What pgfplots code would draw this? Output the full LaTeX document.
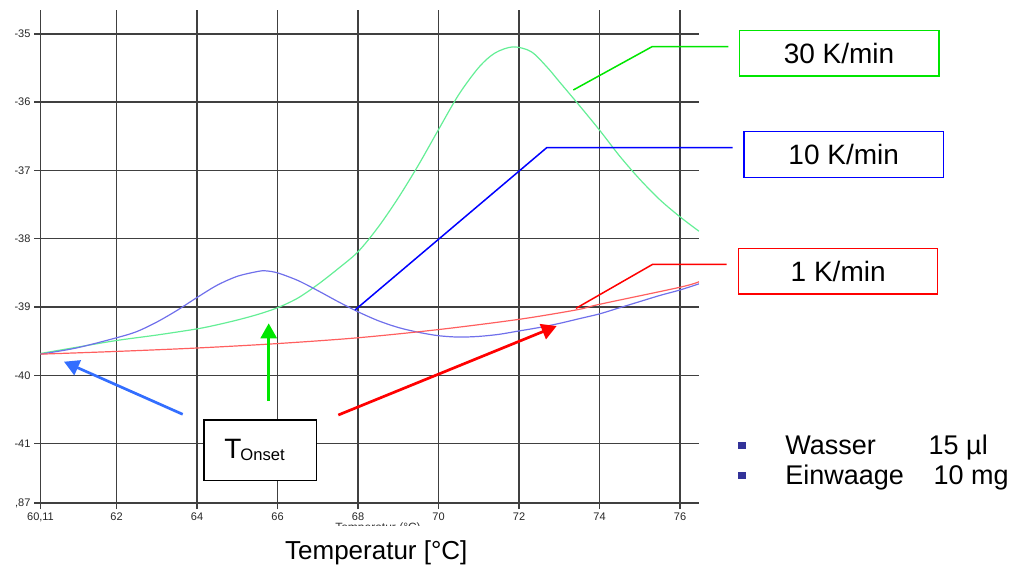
\documentclass[border=0pt]{standalone}
\usepackage{fontspec}
\setmainfont{Liberation Sans}
\usepackage{pgfplots}
\usepackage{pgfplotstable}
\pgfplotsset{compat=1.18}
\usetikzlibrary{arrows.meta}

\definecolor{gridc}{RGB}{64,64,64}
\definecolor{cgreen}{RGB}{100,238,150}
\definecolor{cblue}{RGB}{112,112,235}
\definecolor{cred}{RGB}{255,95,95}
\definecolor{lgreen}{RGB}{0,230,0}
\definecolor{lblue}{RGB}{0,0,255}
\definecolor{lred}{RGB}{255,0,0}
\definecolor{ablue}{RGB}{51,110,255}
\definecolor{bulletc}{RGB}{51,51,153}

\pgfplotstableread{
T v
60.11 -39.68
61.0 -39.59
62.0 -39.49
63.0 -39.41
64.0 -39.32
64.5 -39.26
65.0 -39.19
65.5 -39.11
66.0 -39.01
66.5 -38.87
67.0 -38.67
67.5 -38.44
68.0 -38.19
68.5 -37.83
69.0 -37.40
69.5 -36.92
70.0 -36.40
70.5 -35.89
71.0 -35.49
71.4 -35.28
71.85 -35.19
72.3 -35.26
72.7 -35.49
73.0 -35.70
73.5 -36.05
74.0 -36.41
74.5 -36.79
75.0 -37.13
75.5 -37.43
76.0 -37.68
76.47 -37.89
}\greendata

\pgfplotstableread{
T v
60.11 -39.69
61.0 -39.60
62.0 -39.45
62.5 -39.36
63.0 -39.22
63.5 -39.05
64.0 -38.86
64.5 -38.68
65.0 -38.55
65.5 -38.48
65.7 -38.47
66.0 -38.50
66.5 -38.61
67.0 -38.76
67.5 -38.92
68.0 -39.07
68.5 -39.20
69.0 -39.30
69.5 -39.37
70.0 -39.42
70.5 -39.44
71.0 -39.43
71.5 -39.40
72.0 -39.35
72.5 -39.30
73.0 -39.24
73.5 -39.17
74.0 -39.10
74.5 -39.01
75.0 -38.92
75.5 -38.83
76.0 -38.75
76.47 -38.66
}\bluedata

\pgfplotstableread{
T v
60.11 -39.69
62.0 -39.65
64.0 -39.60
66.0 -39.535
68.0 -39.45
70.0 -39.33
72.0 -39.18
73.44 -39.04
74.0 -38.96
76.0 -38.71
76.47 -38.63
}\reddata

\begin{document}
\begin{tikzpicture}
\useasboundingbox (0,0) rectangle (506pt,282pt);
\begin{axis}[
  at={(20.25pt,30.5pt)}, anchor=south west,
  scale only axis, width=329.25pt, height=246.5pt,
  xmin=60.11, xmax=76.47, ymin=-41.87, ymax=-34.65,
  axis lines=left,
  axis line style={-, draw=gridc, line width=0.7pt},
  xtick={60.11,62,64,66,68,70,72,74,76},
  xticklabels={{60,11},62,64,66,68,70,72,74,76},
  ytick={-41.87,-41,-40,-39,-38,-37,-36,-35},
  yticklabels={{,87},-41,-40,-39,-38,-37,-36,-35},
  grid=major,
  major grid style={draw=gridc, line width=0.7pt},
  tick align=outside, major tick length=3pt,
  tick style={draw=gridc, line width=0.7pt},
  ticklabel style={font=\fontsize{5.5pt}{6pt}\selectfont, text=black!85},
  xticklabel style={yshift=1.8pt},
  yticklabel style={xshift=1.5pt},
]
\addplot[cgreen, line width=0.6pt, smooth] table[x=T,y=v] {\greendata};
\addplot[cblue, line width=0.6pt, smooth] table[x=T,y=v] {\bluedata};
\addplot[cred, line width=0.6pt, smooth] table[x=T,y=v] {\reddata};
\end{axis}

\begin{scope}[x=0.5pt, y=-0.5pt, yshift=282pt]
  % leader lines
  \draw[lgreen, line width=0.75pt] (573.3,90) -- (652,46.7) -- (728.3,46.7);
  \draw[lblue, line width=0.75pt] (355,310) -- (546.7,147.7) -- (732.7,147.7);
  \draw[lred, line width=0.75pt] (576,308.3) -- (652.7,264.3) -- (726.7,264.3);
  % legend boxes
  \draw[lgreen, line width=0.75pt] (739.3,30.7) rectangle (939,76);
  \node[font=\fontsize{14pt}{16pt}\selectfont] at (839,53.3) {30 K/min};
  \draw[lblue, line width=0.75pt] (744,131.7) rectangle (943.3,177.3);
  \node[font=\fontsize{14pt}{16pt}\selectfont] at (843.7,154.5) {10 K/min};
  \draw[lred, line width=0.75pt] (738.7,248.3) rectangle (937.7,294);
  \node[font=\fontsize{14pt}{16pt}\selectfont] at (838.2,271.2) {1 K/min};
  % arrows
  \draw[ablue, line width=1.35pt, -{Triangle[length=7.5pt,width=8pt]}] (182.7,414.3) -- (64,361.7);
  \draw[lgreen, line width=1.35pt, -{Triangle[length=7.5pt,width=8pt]}] (268.7,400.7) -- (268.7,323.3);
  \draw[lred, line width=1.35pt, -{Triangle[length=7.5pt,width=8pt]}] (338.3,415) -- (556.7,326);
  % T onset box
  \draw[black, fill=white, line width=0.75pt] (204,420) rectangle (316.7,480.7);
  \node[anchor=base west, inner sep=0pt, font=\fontsize{14pt}{16pt}\selectfont] at (224,458.3) {T};
  \node[anchor=base west, inner sep=0pt, font=\fontsize{8.3pt}{10pt}\selectfont] at (240,460) {Onset};
  % bullets
  \fill[bulletc] (738.3,441.7) rectangle (746,449.3);
  \fill[bulletc] (738.3,471.7) rectangle (746,479.3);
  \node[anchor=base west, inner sep=0pt, font=\fontsize{13.5pt}{16pt}\selectfont] at (785,454.3) {Wasser};
  \node[anchor=base west, inner sep=0pt, font=\fontsize{13.5pt}{16pt}\selectfont] at (928.3,454.3) {15 µl};
  \node[anchor=base west, inner sep=0pt, font=\fontsize{13.5pt}{16pt}\selectfont] at (785,484) {Einwaage};
  \node[anchor=base west, inner sep=0pt, font=\fontsize{13.5pt}{16pt}\selectfont] at (933.3,484) {10 mg};
  % hidden (clipped) small axis title
  \begin{scope}
    \clip (320,521.5) rectangle (440,525.5);
    \node[anchor=north, inner sep=0pt, text=black!80, font=\fontsize{6pt}{7pt}\selectfont] at (378,522.5) {Temperatur (°C)};
  \end{scope}
  % x axis label
  \node[anchor=base, inner sep=0pt, font=\fontsize{13pt}{16pt}\selectfont] at (376.3,559) {Temperatur [°C]};
\end{scope}
\end{tikzpicture}
\end{document}
